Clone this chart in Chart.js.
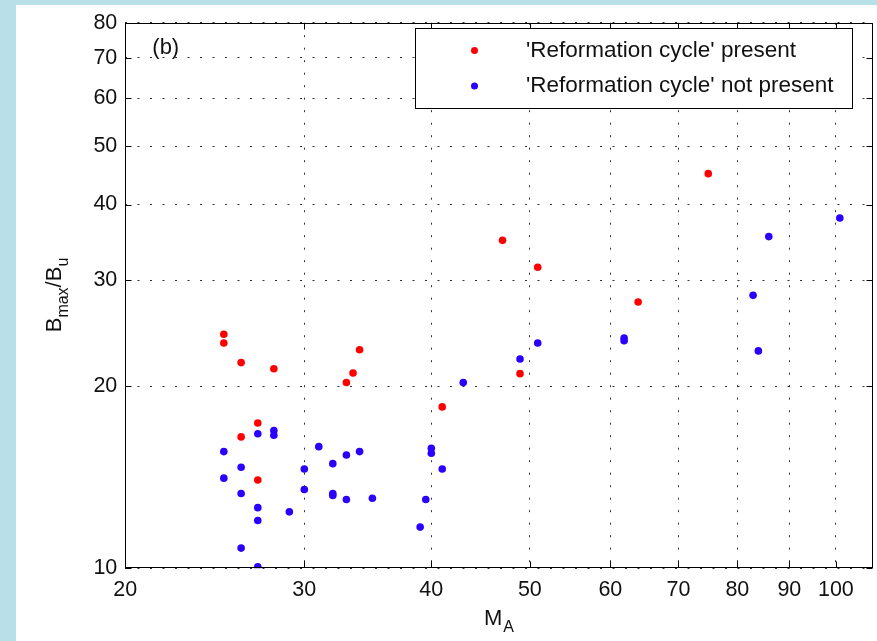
<!doctype html>
<html>
<head>
<meta charset="utf-8">
<title>Reformation cycle</title>
<script src="https://cdn.jsdelivr.net/npm/chart.js"></script>
<style>
  body { margin: 0; background: #b9dfe8; width: 877px; height: 641px; overflow: hidden; }
  #panel { position: absolute; left: 16px; top: 5px; width: 861px; height: 636px; background: #fff; }
</style>
</head>
<body>
<div id="panel"><canvas id="grafico" width="861" height="636"></canvas></div>
<script>
// M_A and Bmax/Bu
const redX = [25, 25, 26, 28, 33, 33.5, 34, 27, 26, 27, 41, 48.9, 47, 50.9, 63.9, 74.9];
const redY = [24.4, 23.6, 21.9, 21.4, 20.3, 21.05, 23.0, 17.4, 16.5, 14.0, 18.5, 21.0, 34.9, 31.5, 27.6, 45.0];

const blueX = [25, 25, 26, 26, 26, 27, 27, 27, 27, 28, 28, 29, 30, 30, 31, 32, 32, 32, 33, 33, 34, 35,
               39, 39.5, 40, 40, 41, 43, 48.9, 50.9, 61.9, 61.9, 83.9, 82.9, 85.9, 100.9];
const blueY = [15.6, 14.1, 14.7, 13.3, 10.8, 16.7, 12.6, 12.0, 10.06, 16.9, 16.6, 12.4, 14.6, 13.5, 15.9, 14.9, 13.3, 13.2, 15.4, 13.0, 15.6, 13.06,
               11.7, 13.0, 15.8, 15.5, 14.6, 20.3, 22.2, 23.6, 24.05, 23.8, 22.9, 28.3, 35.4, 38.0];

const xTicks = [20, 30, 40, 50, 60, 70, 80, 90, 100];
const yTicks = [10, 20, 30, 40, 50, 60, 70, 80];

const labels = ["'Reformation cycle' present", "'Reformation cycle' not present"];
const RED = '#ff0000';
const BLUE = '#2a00ff';
const FONT = '"Liberation Sans", Arial, sans-serif';

function pares(xs, ys) {
    return xs.map((x, i) => ({ x: x, y: ys[i] }));
}

// box, inward ticks, legend and titles drawn like the matlab figure
const extras = {
    id: 'extras',
    afterDraw(chart) {
        const ctx = chart.ctx;
        const a = chart.chartArea;
        const sx = chart.scales.x, sy = chart.scales.y;
        ctx.save();
        ctx.strokeStyle = '#000';
        ctx.lineWidth = 1;
        ctx.setLineDash([]);
        const L = Math.round(a.left) + 0.5, R = Math.round(a.right) - 0.5;
        const T = Math.round(a.top) + 0.5, B = Math.round(a.bottom) - 0.5;
        ctx.strokeRect(L, T, R - L, B - T);
        ctx.beginPath();
        xTicks.forEach(v => {
            const p = Math.round(sx.getPixelForValue(v)) + 0.5;
            ctx.moveTo(p, B); ctx.lineTo(p, B - 6);
            ctx.moveTo(p, T); ctx.lineTo(p, T + 6);
        });
        yTicks.forEach(v => {
            const p = Math.round(sy.getPixelForValue(v)) + 0.5;
            ctx.moveTo(L, p); ctx.lineTo(L + 6, p);
            ctx.moveTo(R, p); ctx.lineTo(R - 6, p);
        });
        ctx.stroke();

        // legend
        const lx = Math.round(a.right - 20 - 437.7) + 0.5, ly = Math.round(a.top + 5.6) + 0.5;
        ctx.fillStyle = '#fff';
        ctx.fillRect(lx, ly, 437, 80);
        ctx.strokeRect(lx, ly, 437, 80);
        const cores = [RED, BLUE];
        ctx.font = '22.5px ' + FONT;
        ctx.textBaseline = 'middle';
        ctx.textAlign = 'left';
        labels.forEach((t, i) => {
            const yy = ly + 22 + i * 35.5;
            ctx.fillStyle = cores[i];
            ctx.beginPath();
            ctx.arc(lx + 59, yy, 3.5, 0, Math.PI * 2);
            ctx.fill();
            ctx.fillStyle = '#111';
            ctx.fillText(t, lx + 110.5, yy);
        });

        // panel label
        ctx.font = '22px ' + FONT;
        ctx.fillStyle = '#111';
        ctx.fillText('(b)', a.left + 27, a.top + 25);

        // x title M_A
        ctx.textBaseline = 'alphabetic';
        ctx.font = '22px ' + FONT;
        ctx.fillText('M', 468, 620);
        const wm = ctx.measureText('M').width;
        ctx.font = '16px ' + FONT;
        ctx.fillText('A', 469 + wm, 627);

        // y title B_max / B_u
        ctx.translate(45, 290);
        ctx.rotate(-Math.PI / 2);
        const partes = [['B', 22, 0], ['max', 16, 7], ['/B', 22, 0], ['u', 16, 7]];
        let total = 0;
        partes.forEach(p => { ctx.font = p[1] + 'px ' + FONT; total += ctx.measureText(p[0]).width; });
        let px = -total / 2;
        partes.forEach(p => {
            ctx.font = p[1] + 'px ' + FONT;
            ctx.fillText(p[0], px, p[2]);
            px += ctx.measureText(p[0]).width;
        });
        ctx.restore();
    }
};

new Chart(document.getElementById('grafico').getContext('2d'), {
    type: 'scatter',
    data: {
        datasets: [{
            label: labels[0],
            data: pares(redX, redY),
            backgroundColor: RED,
            borderWidth: 0,
            pointRadius: 3.8
        }, {
            label: labels[1],
            data: pares(blueX, blueY),
            backgroundColor: BLUE,
            borderWidth: 0,
            pointRadius: 3.8
        }]
    },
    options: {
        responsive: false,
        animation: false,
        layout: { padding: { left: 0, right: 4.3, top: 17.7, bottom: 0 } },
        plugins: { legend: { display: false }, tooltip: { enabled: false } },
        scales: {
            x: {
                type: 'logarithmic',
                min: 20,
                max: 108.7,
                afterBuildTicks: s => { s.ticks = xTicks.map(v => ({ value: v })); },
                afterFit: s => { s.height = 72.7; s.paddingLeft = 0; s.paddingRight = 0; },
                ticks: {
                    callback: v => String(v),
                    font: { family: FONT, size: 21.5 },
                    color: '#111',
                    padding: 9,
                    maxRotation: 0,
                    autoSkip: false
                },
                grid: { color: '#333', drawTicks: false, lineWidth: 1 },
                border: { display: false, dash: [2, 10.5] }
            },
            y: {
                type: 'logarithmic',
                min: 10,
                max: 80,
                afterBuildTicks: s => { s.ticks = yTicks.map(v => ({ value: v })); },
                afterFit: s => { s.width = 109.3; s.paddingTop = 0; s.paddingBottom = 0; },
                ticks: {
                    callback: v => String(v),
                    font: { family: FONT, size: 21.5 },
                    color: '#111',
                    padding: 8,
                    autoSkip: false
                },
                grid: { color: '#333', drawTicks: false, lineWidth: 1 },
                border: { display: false, dash: [2, 10.5] }
            }
        }
    },
    plugins: [extras]
});
</script>
</body>
</html>
